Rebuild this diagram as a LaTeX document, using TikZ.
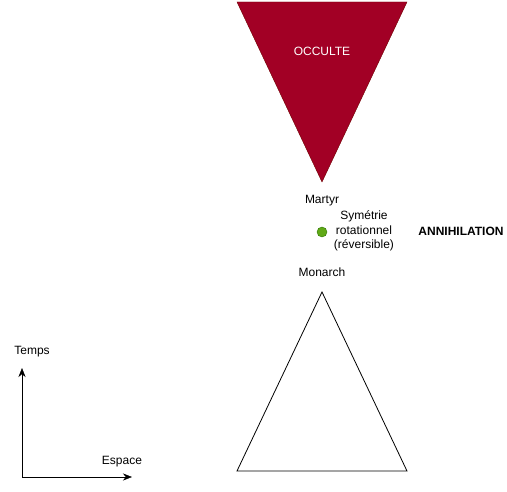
\documentclass[tikz,border=0pt]{standalone}
\usepackage{fontspec}
\setmainfont{Liberation Sans}
\usetikzlibrary{positioning}
\usetikzlibrary{arrows.meta}
\definecolor{occred}{HTML}{A20025}
\definecolor{occline}{HTML}{6F0000}
\definecolor{dotgreen}{HTML}{60A917}
\definecolor{dotline}{HTML}{2D7600}

\begin{document}
\begin{tikzpicture}[x=1pt,y=-1pt,
	lbl/.style={font=\fontsize{12}{14.5}\selectfont, inner sep=0pt},
	axis/.style={-{Stealth[length=9pt,width=7pt]}, thin}]
	\useasboundingbox (0,0) rectangle (507,492);

	%occulte
	\coordinate (oc1) at (237,2);
	\coordinate (oc2) at (407,2);
	\coordinate (oc3) at (322,182);
	\filldraw[fill=occred, draw=occline] (oc1) -- (oc2) -- (oc3) -- cycle;
	\node (occ) [lbl, text=white] at (322,51) {OCCULTE};

	%monarch
	\coordinate (mo1) at (322,292);
	\coordinate (mo2) at (407,471);
	\coordinate (mo3) at (237,471);
	\draw[thick] (mo1) -- (mo2) -- (mo3) -- cycle;

	%middle
	\node (dot) [circle, draw=dotline, fill=dotgreen, minimum size=10pt, inner sep=0pt] at (322,232) {};
	\node (martyr) [lbl] at (322,201) {Martyr};
	\node (monarch) [lbl] at (322,272) {Monarch};
	\node (sym) [lbl, align=center] at (364,231) {Symétrie\\rotationnel\\(réversible)};
	\node (anni) [lbl, font=\fontsize{12}{14.5}\selectfont\bfseries] at (461,231) {ANNIHILATION};

	%axes
	\coordinate (o) at (22,477);
	\coordinate (t) at (22,368);
	\coordinate (e) at (132,477);
	\draw[axis] (o) -- (t);
	\draw[axis] (o) -- (e);
	\node (temps) [lbl] at (32,352) {Temps};
	\node (espace) [lbl] at (122,462) {Espace};
\end{tikzpicture}
\end{document}
